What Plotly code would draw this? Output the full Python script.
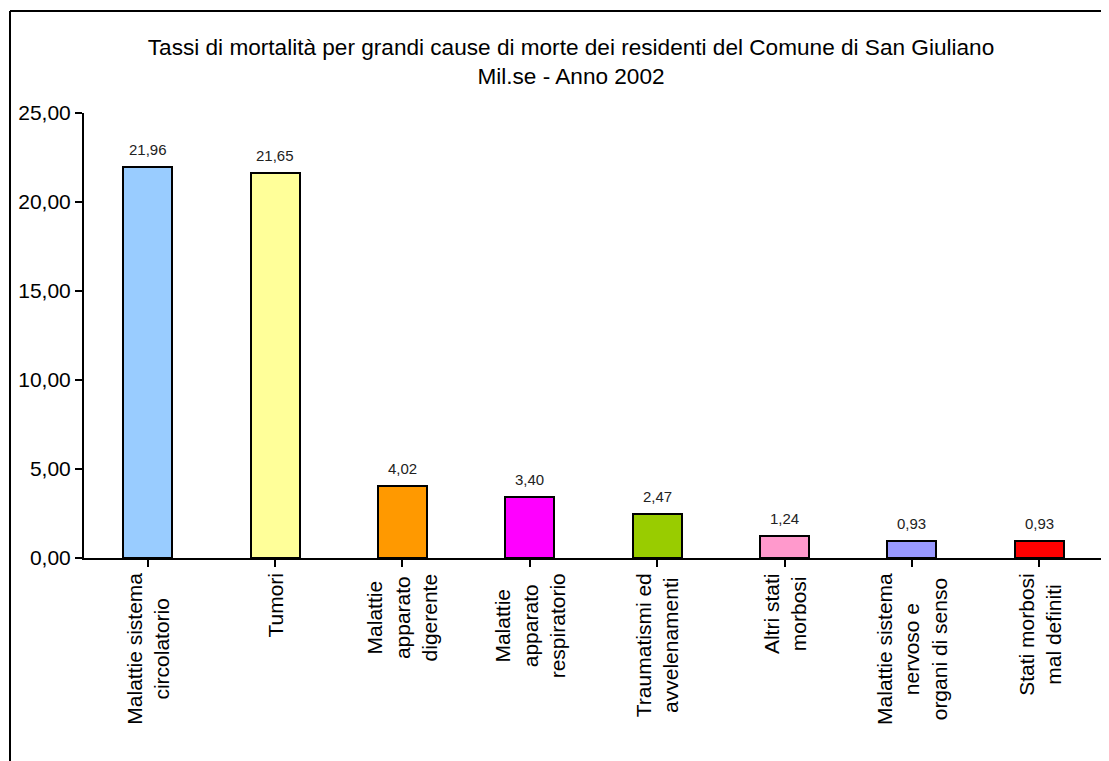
import plotly.graph_objects as go

categories = [
    "Malattie sistema<br>circolatorio",
    "Tumori",
    "Malattie<br>apparato<br>digerente",
    "Malattie<br>apparato<br>respiratorio",
    "Traumatismi ed<br>avvelenamenti",
    "Altri stati<br>morbosi",
    "Malattie sistema<br>nervoso e<br>organi di senso",
    "Stati morbosi<br>mal definiti",
]
values = [21.96, 21.65, 4.02, 3.40, 2.47, 1.24, 0.93, 0.93]
colors = ["#99CCFF", "#FFFF99", "#FF9900", "#FF00FF", "#99CC00", "#FF99CC", "#9999FF", "#FF0000"]
ytick_vals = [0, 5, 10, 15, 20, 25]
title_lines = ["Tassi di mortalità per grandi cause di morte dei residenti del Comune di San Giuliano",
               "Mil.se - Anno 2002"]

FONT = "Liberation Sans"
OFF = 8  # page body margin
W, H = 1109 - OFF, 761 - OFF
# plot area in page pixels: x 84..1103, y 113..558
L = 84 - OFF
R = W - (1103 - OFF)
T = 113 - OFF
B = H - (558 - OFF)
pw = W - L - R
ph = H - T - B

fig = go.Figure()
fig.add_trace(go.Bar(
    x=list(range(len(categories))),
    y=values,
    width=0.385,
    marker=dict(color=colors, line=dict(color="black", width=2)),
    hoverinfo="skip",
))

annotations = []
for i, c in enumerate(categories):
    annotations.append(dict(
        x=i, y=0, xref="x", yref="y", text=c, showarrow=False,
        textangle=-90, xanchor="center", yanchor="top", yshift=-13,
        align="center", font=dict(family=FONT, size=21, color="black"),
    ))
for i, v in enumerate(values):
    annotations.append(dict(
        x=i, y=v, xref="x", yref="y", text=f"{v:.2f}".replace(".", ","), showarrow=False,
        xanchor="center", yanchor="bottom", yshift=7,
        font=dict(family=FONT, size=15, color="#222222"),
    ))

def px_x(p):
    return (p - OFF - L) / pw

def px_y(p):
    return (H - B - (p - OFF)) / ph

shapes = [
    dict(type="line", xref="paper", yref="paper", x0=px_x(10), x1=px_x(1115), y0=px_y(11), y1=px_y(11),
         line=dict(color="black", width=2)),
    dict(type="line", xref="paper", yref="paper", x0=px_x(10), x1=px_x(10), y0=px_y(11), y1=px_y(775),
         line=dict(color="black", width=2)),
]

fig.update_layout(
    width=W, height=H,
    margin=dict(l=L, r=R, t=T, b=B),
    paper_bgcolor="white", plot_bgcolor="white",
    separators=",.",
    showlegend=False,
    bargap=0,
    title=dict(text="<br>".join(title_lines), x=(571 - OFF) / W, xanchor="center",
               y=1 - (54.5 - OFF) / H, yanchor="middle",
               font=dict(family=FONT, size=22.6, color="black")),
    annotations=annotations,
    shapes=shapes,
    xaxis=dict(
        range=[-0.5, len(categories) - 0.5],
        tickmode="array", tickvals=list(range(len(categories))), ticktext=[""] * len(categories),
        tickson="boundaries", ticks="outside", ticklen=7, tickwidth=2, tickcolor="black",
        showline=True, linecolor="black", linewidth=2, showgrid=False, zeroline=False,
    ),
    yaxis=dict(
        range=[0, 25], tickvals=ytick_vals, tickformat=".2f",
        ticks="outside", ticklen=7, tickwidth=2, tickcolor="black",
        showline=True, linecolor="black", linewidth=2, showgrid=False, zeroline=False,
        tickfont=dict(family=FONT, size=21, color="black"),
    ),
)

fig.write_html("out.html")
